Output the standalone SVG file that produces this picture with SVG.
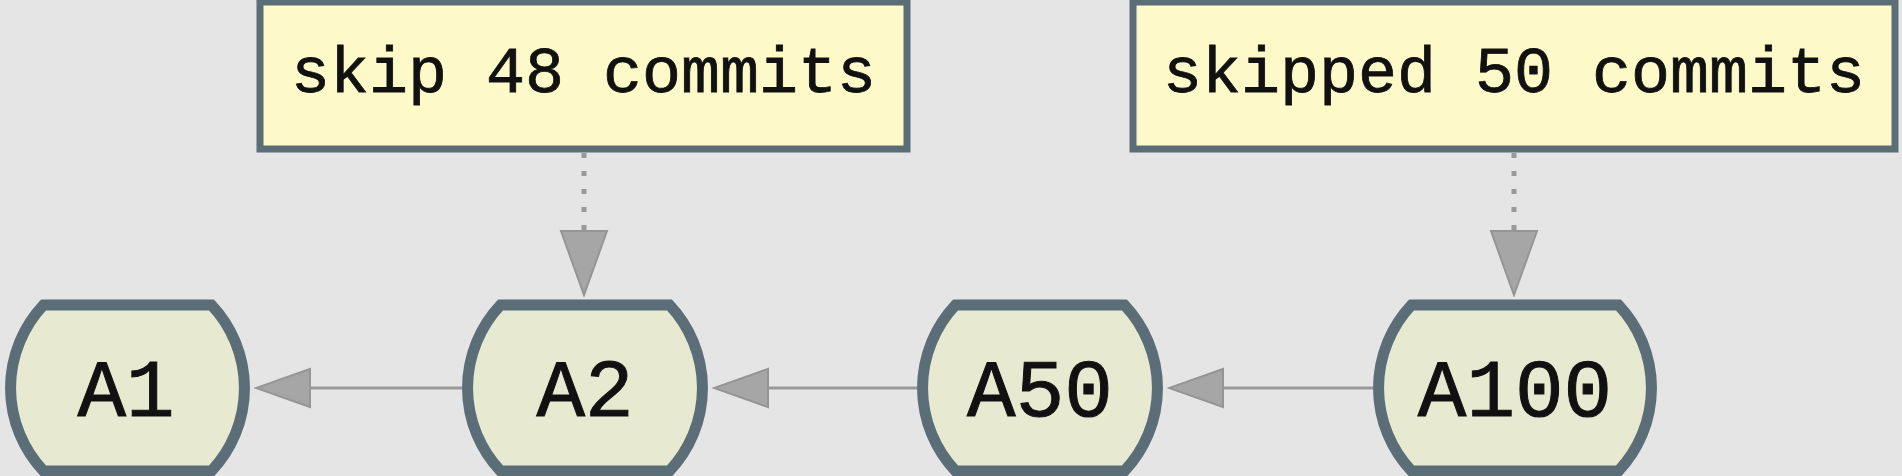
<svg xmlns="http://www.w3.org/2000/svg" width="1902" height="476" viewBox="0 0 1902 476">
<style>
.bg{fill:#e5e5e5}
.note rect{fill:#fdf9c9;stroke:#5b6d77;stroke-width:7}
.note text{font-family:"Liberation Mono","Courier New",monospace;font-size:65px;fill:#111;stroke:#111;stroke-width:0.8;text-anchor:middle}
.node path{fill:#e7e9d1;stroke:#5b6d77;stroke-width:11}
.node text{font-family:"Liberation Mono","Courier New",monospace;font-size:81px;fill:#111;stroke:#111;stroke-width:1;text-anchor:middle}
.edge{stroke:#999;stroke-width:3;fill:none}
.dot{stroke:#999;stroke-width:5;fill:none;stroke-dasharray:5 13}
.ah{fill:#a6a6a6;stroke:#959595;stroke-width:2}
</style>
<defs>
<marker id="arrH" markerUnits="userSpaceOnUse" viewBox="-2 -22 58 44" markerWidth="58" markerHeight="44" refX="0" refY="0" orient="auto">
<path class="ah" d="M0,-19 L54,0 L0,19 Z"/>
</marker>
<marker id="arrV" markerUnits="userSpaceOnUse" viewBox="-2 -26 68 52" markerWidth="68" markerHeight="52" refX="0" refY="0" orient="auto">
<path class="ah" d="M0,-23 L64,0 L0,23 Z"/>
</marker>
</defs>
<rect class="bg" x="0" y="0" width="1902" height="476"/>
<g id="connectors">
<line class="edge" x1="462" y1="388" x2="310" y2="388" marker-end="url(#arrH)"/>
<line class="edge" x1="917" y1="388" x2="768" y2="388" marker-end="url(#arrH)"/>
<line class="edge" x1="1373" y1="388" x2="1223" y2="388" marker-end="url(#arrH)"/>
<line class="dot" x1="584" y1="153" x2="584" y2="231" marker-end="url(#arrV)"/>
<line class="dot" x1="1514" y1="153" x2="1514" y2="231" marker-end="url(#arrV)"/>
</g>
<g id="note1" class="note">
<rect x="260" y="2" width="647" height="147"/>
<text x="583.5" y="92">skip 48 commits</text>
</g>
<g id="note2" class="note">
<rect x="1133" y="2" width="762" height="147"/>
<text x="1514" y="92">skipped 50 commits</text>
</g>
<g id="A1" class="node">
<path d="M43.5,305 L211.5,305 A121,121 0 0 1 211.5,471 L43.5,471 A121,121 0 0 1 43.5,305 Z"/>
<text x="126" y="416">A1</text>
</g>
<g id="A2" class="node">
<path d="M500.5,305 L669.5,305 A121,121 0 0 1 669.5,471 L500.5,471 A121,121 0 0 1 500.5,305 Z"/>
<text x="585" y="416">A2</text>
</g>
<g id="A50" class="node">
<path d="M955.5,305 L1124.5,305 A121,121 0 0 1 1124.5,471 L955.5,471 A121,121 0 0 1 955.5,305 Z"/>
<text x="1040" y="416">A50</text>
</g>
<g id="A100" class="node">
<path d="M1411.5,305 L1618.5,305 A121,121 0 0 1 1618.5,471 L1411.5,471 A121,121 0 0 1 1411.5,305 Z"/>
<text x="1515" y="416">A100</text>
</g>
</svg>
